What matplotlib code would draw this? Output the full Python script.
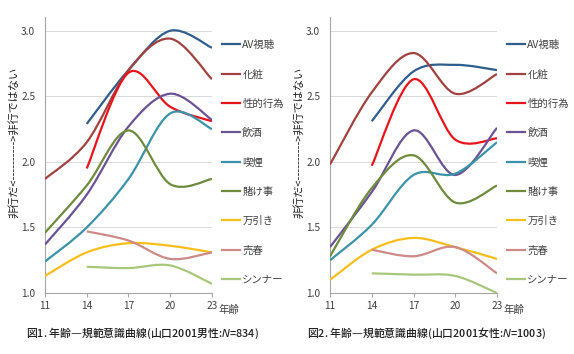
import numpy as np
import matplotlib
matplotlib.use("Agg")
import matplotlib.pyplot as plt
from matplotlib.path import Path
from matplotlib.patches import PathPatch
from matplotlib.lines import Line2D

plt.rcParams['font.family'] = ['Noto Sans CJK JP', 'DejaVu Sans']

# データ
ages = [11, 14, 17, 20, 23]
labels = ["AV視聴", "化粧", "性的行為", "飲酒", "喫煙", "賭け事", "万引き", "売春", "シンナー"]
colors = ["#2E5E8E", "#A0423F", "#E8141B", "#6A5394", "#3A93A8",
          "#6E8B3D", "#F7BE1A", "#CC8A88", "#A9C77B"]

# 男性 (None = 値なし)
male = [
    [None, 2.29, 2.70, 3.00, 2.87],
    [1.87, 2.15, 2.70, 2.94, 2.63],
    [None, 1.95, 2.68, 2.42, 2.31],
    [1.37, 1.75, 2.27, 2.52, 2.32],
    [1.24, 1.50, 1.87, 2.37, 2.25],
    [1.46, 1.82, 2.24, 1.83, 1.87],
    [1.13, 1.31, 1.38, 1.36, 1.31],
    [None, 1.47, 1.40, 1.26, 1.31],
    [None, 1.20, 1.19, 1.21, 1.07],
]
# 女性
female = [
    [None, 2.31, 2.69, 2.74, 2.70],
    [1.98, 2.53, 2.83, 2.52, 2.67],
    [None, 1.97, 2.63, 2.17, 2.18],
    [1.35, 1.77, 2.24, 1.90, 2.26],
    [1.25, 1.52, 1.90, 1.91, 2.15],
    [1.28, 1.80, 2.05, 1.69, 1.82],
    [1.10, 1.33, 1.42, 1.35, 1.26],
    [None, 1.33, 1.28, 1.35, 1.15],
    [None, 1.15, 1.14, 1.13, 1.00],
]

captions = [r"図1. 年齢—規範意識曲線(山口2001男性:$N$=834)",
            r"図2. 年齢—規範意識曲線(山口2001女性:$N$=1003)"]
ylabel = "非行だ<---------->非行ではない"


def smooth_path(xs, ys):
    # Excel風の平滑線 (ベジェ曲線)
    pts = np.column_stack([xs, ys])
    n = len(pts)
    verts = [pts[0]]
    codes = [Path.MOVETO]
    for i in range(n - 1):
        p0 = pts[i - 1] if i > 0 else pts[i]
        p1 = pts[i]
        p2 = pts[i + 1]
        p3 = pts[i + 2] if i + 2 < n else pts[i + 1]
        c1 = p1 + (p2 - p0) / 6.0
        c2 = p2 - (p3 - p1) / 6.0
        verts += [c1, c2, p2]
        codes += [Path.CURVE4] * 3
    return Path(verts, codes)


fig = plt.figure(figsize=(5.74, 3.54), dpi=100)
W, H = 574, 354
axes_left = [45, 330]
for k, data in enumerate([male, female]):
    x0 = axes_left[k]
    ax = fig.add_axes([x0 / W, 1 - 293 / H, 167 / W, 276 / H])
    ax.set_xlim(11, 23)
    ax.set_ylim(1.0, 3.105)
    handles = []
    for vals, c, lab in zip(data, colors, labels):
        xs = [a for a, v in zip(ages, vals) if v is not None]
        ys = [v for v in vals if v is not None]
        patch = PathPatch(smooth_path(xs, ys), facecolor="none", edgecolor=c,
                          lw=1.6, capstyle="butt", zorder=3)
        ax.add_patch(patch)
        handles.append(Line2D([], [], color=c, lw=1.6, label=lab))
    ax.set_xticks(ages)
    ax.set_yticks([1.0, 1.5, 2.0, 2.5, 3.0])
    ax.set_yticklabels(["1.0", "1.5", "2.0", "2.5", "3.0"])
    ax.grid(axis="y", color="#D9D9D9", lw=0.7)
    ax.set_axisbelow(True)
    for s in ["top", "right"]:
        ax.spines[s].set_visible(False)
    for s in ["left", "bottom"]:
        ax.spines[s].set_color("#A6A6A6")
        ax.spines[s].set_linewidth(0.8)
    ax.tick_params(axis="x", length=3, color="#A6A6A6", labelsize=7.3, pad=3,
                   labelcolor="#404040")
    ax.tick_params(axis="y", length=0, labelsize=7.3, pad=7, labelcolor="#404040")
    ax.text(1.04, -0.06, "年齢", transform=ax.transAxes, fontsize=7.5,
            color="#404040", va="center", ha="left")
    ax.legend(handles=handles, loc="upper left", bbox_to_anchor=((x0 + 177) / W, 1 - 40 / H),
              bbox_transform=fig.transFigure, frameon=False, fontsize=7.5,
              handlelength=1.75, handletextpad=0.2, labelspacing=1.84,
              borderpad=0, borderaxespad=0, labelcolor="#404040")
    fig.text((x0 - 31) / W, 1 - 142 / H, ylabel, rotation=90, fontsize=8,
             ha="center", va="center", color="#202020")
    fig.text((x0 + 97) / W, 1 - 333 / H, captions[k], fontsize=7.8,
             fontweight="medium", ha="center", va="center", color="#202020")

fig.savefig("out.png", dpi=100)
